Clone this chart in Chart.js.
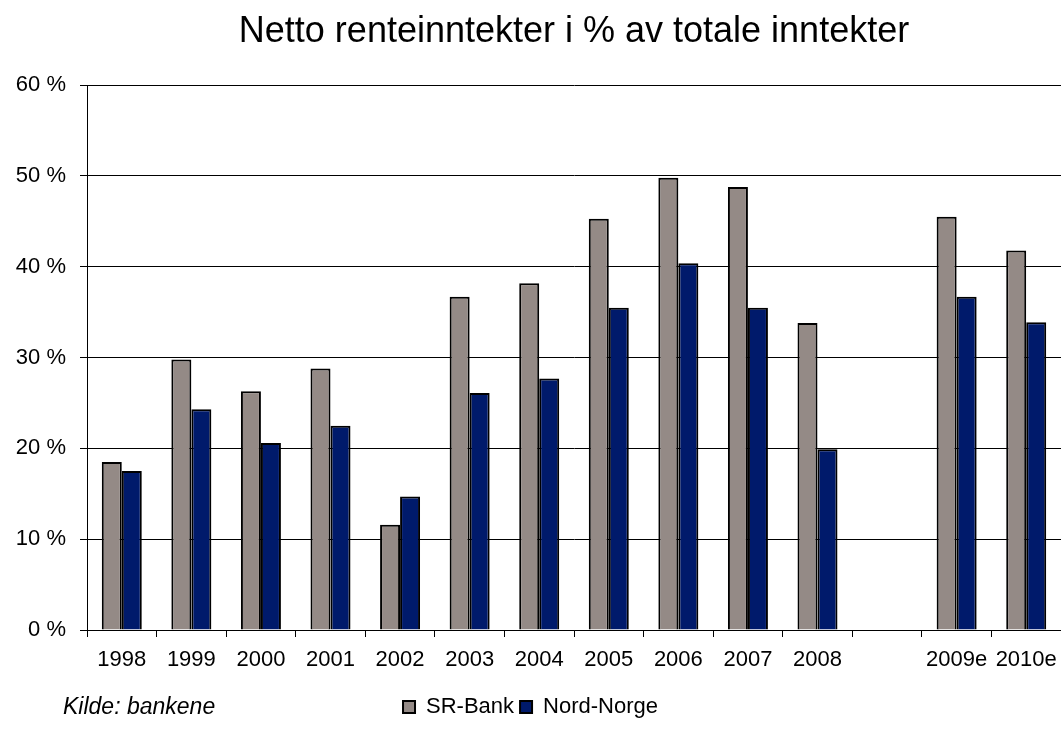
<!DOCTYPE html>
<html>
<head>
<meta charset="utf-8">
<script src="https://cdn.jsdelivr.net/npm/chart.js@4"></script>
<style>
  html, body { margin: 0; padding: 0; background: #fff; }
  #wrap { position: relative; width: 1061px; height: 738px; }
</style>
</head>
<body>
<div id="wrap"><canvas id="c" width="1061" height="738"></canvas></div>
<script>
// data
const years = ['1998', '1999', '2000', '2001', '2002', '2003', '2004', '2005', '2006', '2007', '2008', '', '2009e', '2010e'];
const srBank = [18.5, 29.8, 26.3, 28.8, 11.6, 36.7, 38.2, 45.3, 49.8, 48.8, 33.8, null, 45.5, 41.8];
const nordNorge = [17.5, 24.3, 20.6, 22.5, 14.7, 26.1, 27.7, 35.5, 40.4, 35.5, 19.9, null, 36.7, 33.9];
const yTicks = [0, 10, 20, 30, 40, 50, 60];

const FONT = 'Liberation Sans, Arial, sans-serif';

// "Kilde" note bottom left
const sourceNote = {
  id: 'sourceNote',
  afterDraw(chart) {
    const ctx = chart.ctx;
    ctx.save();
    ctx.font = 'italic 23px ' + FONT;
    ctx.fillStyle = '#000';
    ctx.textBaseline = 'middle';
    ctx.fillText('Kilde: bankene', 63, 708);
    ctx.restore();
  }
};

new Chart(document.getElementById('c'), {
  type: 'bar',
  data: {
    labels: years,
    datasets: [
      {
        label: 'SR-Bank',
        data: srBank,
        backgroundColor: '#948a86',
        borderColor: '#000',
        borderWidth: 2
      },
      {
        label: 'Nord-Norge',
        data: nordNorge,
        backgroundColor: '#001a6b',
        borderColor: '#000',
        borderWidth: 2
      }
    ]
  },
  options: {
    responsive: false,
    animation: false,
    categoryPercentage: 0.575,
    barPercentage: 1,
    layout: { padding: { left: 0, right: 0, top: 0, bottom: 10 } },
    plugins: {
      title: {
        display: true,
        fullSize: false,
        text: 'Netto renteinntekter i % av totale inntekter',
        color: '#000',
        font: { family: FONT, size: 36, weight: 'normal' },
        padding: { top: 10, bottom: 32 }
      },
      legend: {
        position: 'bottom',
        labels: {
          color: '#000',
          font: { family: FONT, size: 22 },
          boxWidth: 12,
          boxHeight: 12,
          padding: 6
        }
      },
      tooltip: { enabled: false }
    },
    scales: {
      x: {
        grid: {
          display: true,
          drawOnChartArea: false,
          drawTicks: true,
          tickLength: 7,
          color: '#000',
          offset: true
        },
        border: { color: '#000' },
        ticks: {
          color: '#000',
          font: { family: FONT, size: 22 },
          padding: 10,
          maxRotation: 0,
          autoSkip: false
        },
        afterFit(scale) {
          scale.height = 60;
          scale.paddingLeft = 0;
          scale.paddingRight = 0;
        }
      },
      y: {
        min: 0,
        max: 60,
        afterBuildTicks(scale) { scale.ticks = yTicks.map(v => ({ value: v })); },
        grid: { color: '#000', tickLength: 7, lineWidth: 1 },
        border: { color: '#000' },
        ticks: {
          color: '#000',
          font: { family: FONT, size: 22 },
          padding: 14,
          callback: v => v + ' %'
        },
        afterFit(scale) { scale.width = 87; }
      }
    }
  },
  plugins: [sourceNote]
});
</script>
</body>
</html>
